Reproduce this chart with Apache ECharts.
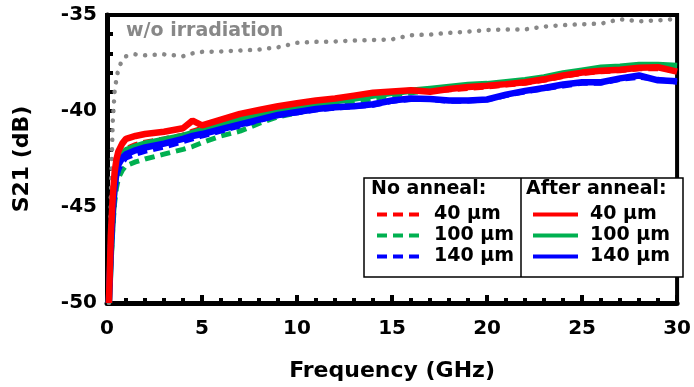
<!DOCTYPE html>
<html><head><meta charset="utf-8">
<script src="https://cdn.jsdelivr.net/npm/echarts@6/dist/echarts.min.js"></script>
<style>html,body{margin:0;padding:0;background:#fff}#c{width:694px;height:387px}</style>
</head><body><div id="c"></div>
<script>
const freq = [0.1,0.2,0.3,0.4,0.5,0.6,0.8,1,1.5,2,3,4,4.5,5,6,7,8,9,10,11,12,13,14,15,16,17,18,19,20,21,22,23,24,25,26,27,28,29,30];
const noIrr = [-50,-44.5,-40.6,-39.0,-38.3,-37.8,-37.35,-37.15,-37.05,-37.1,-37.05,-37.15,-37.0,-36.92,-36.9,-36.85,-36.8,-36.68,-36.45,-36.4,-36.38,-36.33,-36.3,-36.27,-36.05,-36.02,-35.93,-35.87,-35.78,-35.75,-35.75,-35.6,-35.53,-35.48,-35.45,-35.22,-35.33,-35.28,-35.2];
const noAnneal40 = [-50,-47,-45,-43.8,-43,-42.6,-42.15,-41.95,-41.75,-41.62,-41.45,-41.25,-41.05,-40.9,-40.55,-40.25,-40.0,-39.8,-39.62,-39.5,-39.4,-39.25,-39.1,-39.05,-38.98,-38.95,-38.9,-38.82,-38.75,-38.65,-38.55,-38.4,-38.2,-38.05,-37.95,-37.9,-37.8,-37.8,-37.9];
const noAnneal100 = [-50,-48,-46.2,-44.8,-44,-43.5,-43.1,-42.85,-42.65,-42.5,-42.25,-42.0,-41.85,-41.65,-41.3,-41.05,-40.65,-40.3,-40.1,-39.9,-39.75,-39.55,-39.35,-39.2,-39.05,-38.95,-38.85,-38.75,-38.65,-38.55,-38.45,-38.3,-38.1,-37.95,-37.8,-37.75,-37.65,-37.65,-37.7];
const noAnneal140 = [-50,-47.8,-45.8,-44.4,-43.6,-43.1,-42.7,-42.45,-42.25,-42.1,-41.88,-41.6,-41.45,-41.3,-41.05,-40.78,-40.5,-40.25,-40.1,-39.95,-39.85,-39.78,-39.7,-39.5,-39.4,-39.4,-39.5,-39.48,-39.42,-39.2,-39.0,-38.85,-38.7,-38.55,-38.55,-38.35,-38.25,-38.35,-38.5];
const after40 = [-50,-46.5,-44.5,-43.2,-42.5,-42.1,-41.7,-41.45,-41.3,-41.2,-41.08,-40.9,-40.5,-40.75,-40.45,-40.15,-39.95,-39.75,-39.6,-39.45,-39.35,-39.2,-39.05,-38.98,-38.92,-39.0,-38.85,-38.75,-38.68,-38.6,-38.5,-38.35,-38.15,-38.0,-37.9,-37.85,-37.75,-37.72,-37.95];
const after100 = [-50,-47.5,-45.5,-44,-43.2,-42.7,-42.3,-42.05,-41.85,-41.7,-41.5,-41.3,-41.15,-41.0,-40.7,-40.45,-40.2,-40.0,-39.8,-39.65,-39.5,-39.35,-39.2,-39.05,-38.95,-38.85,-38.75,-38.65,-38.6,-38.5,-38.4,-38.25,-38.05,-37.9,-37.75,-37.7,-37.6,-37.6,-37.65];
const after140 = [-50,-47.2,-45.2,-43.9,-43.2,-42.8,-42.45,-42.25,-42.05,-41.9,-41.7,-41.45,-41.3,-41.2,-40.95,-40.7,-40.45,-40.2,-40.05,-39.9,-39.8,-39.75,-39.65,-39.45,-39.35,-39.38,-39.45,-39.45,-39.4,-39.15,-38.95,-38.8,-38.62,-38.5,-38.5,-38.3,-38.15,-38.4,-38.45];
const xTicks = [0,5,10,15,20,25,30];
const yTicks = [-50,-45,-40,-35];

const RED='#ff0000', GREEN='#00b050', BLUE='#0000ff', GRAY='#888888';
const FONT='DejaVu Sans, sans-serif';
function pairs(ys){ return freq.map((f,i)=>[f, ys[i]]); }
function ser(name, ys, color, dashed, z){
  return {name, type:'line', data:pairs(ys), symbol:'none', z,
    lineStyle:{color, width:dashed?5:6.5, type:dashed?[10,6]:'solid', cap:'butt'},
    itemStyle:{color}, emphasis:{disabled:true}, silent:true};
}
const legendCommon = {orient:'vertical', itemWidth:45, itemHeight:12, itemGap:2, padding:0, z:20,
  selectedMode:false, itemStyle:{opacity:0}, lineStyle:{width:4},
  formatter:n=>n.split(': ')[1],
  textStyle:{fontFamily:FONT, fontWeight:'bold', fontSize:19, lineHeight:19, color:'#000', padding:[0,0,0,7]}};
const chart = echarts.init(document.getElementById('c'), null, {renderer:'canvas'});
chart.setOption({
  animation:false,
  grid:{left:107, right:11, top:15, bottom:84, show:true, borderColor:'#000', borderWidth:4, backgroundColor:'transparent'},
  xAxis:{type:'value', min:xTicks[0], max:xTicks[xTicks.length-1], interval:5,
    name:'Frequency (GHz)', nameLocation:'middle', nameGap:57,
    nameTextStyle:{fontFamily:FONT, fontWeight:'bold', fontSize:22, color:'#000'},
    axisLine:{lineStyle:{color:'#000', width:5}},
    axisTick:{inside:true, length:8, lineStyle:{color:'#000', width:4}},
    minorTick:{show:true, splitNumber:5, length:5, lineStyle:{color:'#000', width:4}},
    axisLabel:{fontFamily:FONT, fontWeight:'bold', fontSize:20, color:'#000', margin:16},
    splitLine:{show:false}},
  yAxis:{type:'value', min:yTicks[0], max:yTicks[yTicks.length-1], interval:5,
    name:'S21 (dB)', nameLocation:'middle', nameGap:74, nameRotate:90,
    nameTextStyle:{fontFamily:FONT, fontWeight:'bold', fontSize:22, color:'#000'},
    axisLine:{lineStyle:{color:'#000', width:5}},
    axisTick:{inside:true, length:8, lineStyle:{color:'#000', width:4}},
    minorTick:{show:true, splitNumber:5, length:6, lineStyle:{color:'#000', width:4}},
    axisLabel:{fontFamily:FONT, fontWeight:'bold', fontSize:20, color:'#000', margin:10},
    splitLine:{show:false}},
  legend:[
    Object.assign({left:375, top:205, data:['No anneal: 40 µm','No anneal: 100 µm','No anneal: 140 µm']}, legendCommon),
    Object.assign({left:531, top:205, data:['After anneal: 40 µm','After anneal: 100 µm','After anneal: 140 µm']}, legendCommon)
  ],
  graphic:[
    {type:'rect', shape:{x:364, y:178, width:319, height:99}, style:{fill:'#fff', stroke:'#000', lineWidth:1.5}, z:10},
    {type:'line', shape:{x1:521, y1:178, x2:521, y2:277}, style:{stroke:'#000', lineWidth:1.5}, z:11},
    {type:'text', left:371, top:180, z:12, style:{text:'No anneal:', fontFamily:FONT, fontWeight:'bold', fontSize:19, fill:'#000'}},
    {type:'text', left:526, top:180, z:12, style:{text:'After anneal:', fontFamily:FONT, fontWeight:'bold', fontSize:19, fill:'#000'}},
    {type:'text', left:126, top:22, z:12, style:{text:'w/o irradiation', fontFamily:FONT, fontWeight:'bold', fontSize:19, fill:GRAY}}
  ],
  series:[
    {name:'w/o irradiation', type:'line', data:pairs(noIrr), symbol:'none', z:2, silent:true,
     lineStyle:{color:GRAY, width:4.5, type:[0.1,9.5], cap:'round'}},
    ser('No anneal: 100 µm', noAnneal100, GREEN, true, 3),
    ser('No anneal: 140 µm', noAnneal140, BLUE, true, 3),
    ser('No anneal: 40 µm', noAnneal40, RED, true, 3),
    ser('After anneal: 100 µm', after100, GREEN, false, 4),
    ser('After anneal: 140 µm', after140, BLUE, false, 4),
    ser('After anneal: 40 µm', after40, RED, false, 5)
  ]
});
</script></body></html>
